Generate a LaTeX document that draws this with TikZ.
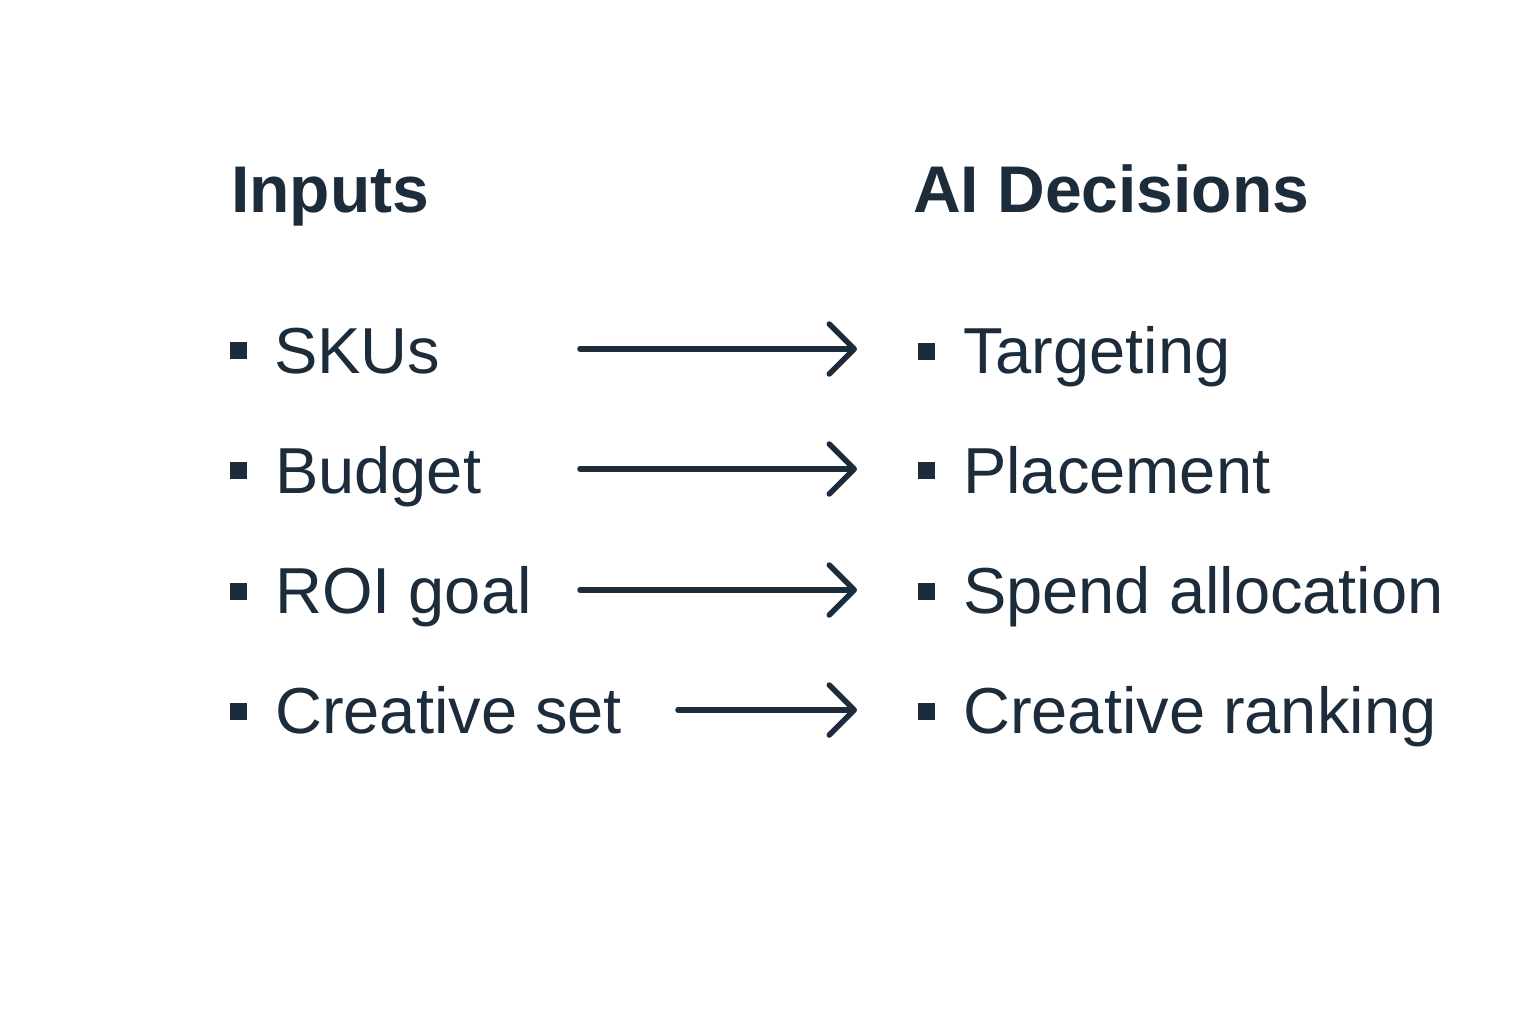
\documentclass[tikz,border=0pt]{standalone}
\usepackage{fontspec}
\setmainfont{Liberation Sans}
\usetikzlibrary{arrows.meta}
\definecolor{ink}{HTML}{1C2C3B}
\tikzset{
  title/.style={anchor=base west, inner sep=0pt, text=ink, font=\fontsize{66}{70}\selectfont\bfseries},
  item/.style={anchor=base west, inner sep=0pt, text=ink, font=\fontsize{65}{70}\selectfont},
  bulletsq/.style={rectangle, fill=ink, minimum size=17pt, inner sep=0pt},
  flow/.style={draw=ink, line width=5.5pt, line cap=round,
    -{Straight Barb[length=25pt, width=50pt, line cap=round, line join=round]}}
}
\begin{document}
\begin{tikzpicture}[x=1pt, y=-1pt]
\useasboundingbox[fill=white] (0,0) rectangle (1536,1024);
\node[title] (tin) at (231,213) {Inputs};
\node[title] (tai) at (913,213) {AI Decisions};
% left bullets
\node[bulletsq] (lb1) at (238,350) {};
\node[bulletsq] (lb2) at (238,470) {};
\node[bulletsq] (lb3) at (238,591) {};
\node[bulletsq] (lb4) at (238,711) {};
\node[item] (l1) at (274,373) {SKUs};
\node[item] (l2) at (275,493) {Budget};
\node[item] (l3) at (275,613) {ROI goal};
\node[item] (l4) at (275,733) {Creative set};
% right bullets
\node[bulletsq] (rb1) at (926,351) {};
\node[bulletsq] (rb2) at (926,470) {};
\node[bulletsq] (rb3) at (926,591) {};
\node[bulletsq] (rb4) at (926,711) {};
\node[item] (r1) at (963,373) {Targeting};
\node[item] (r2) at (963,493) {Placement};
\node[item] (r3) at (963,613) {Spend allocation};
\node[item] (r4) at (963,733) {Creative ranking};
% arrows
\coordinate (s1) at (580,349); \coordinate (e1) at (857,349);
\coordinate (s2) at (580,469); \coordinate (e2) at (857,469);
\coordinate (s3) at (580,590); \coordinate (e3) at (857,590);
\coordinate (s4) at (678,710); \coordinate (e4) at (857,710);
\draw[flow] (s1) -- (e1);
\draw[flow] (s2) -- (e2);
\draw[flow] (s3) -- (e3);
\draw[flow] (s4) -- (e4);
\end{tikzpicture}
\end{document}
